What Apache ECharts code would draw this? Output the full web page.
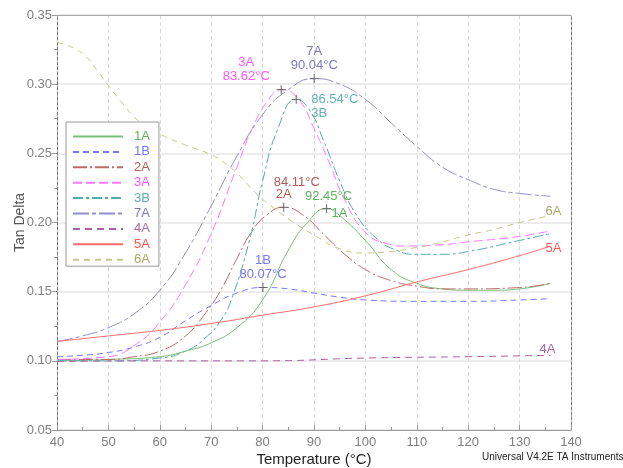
<!DOCTYPE html>
<html>
<head>
<meta charset="utf-8">
<script src="https://cdn.jsdelivr.net/npm/echarts@6/dist/echarts.min.js"></script>
<style>html,body{margin:0;padding:0;background:#fff;}#c{width:623px;height:468px;}</style>
</head>
<body>
<div id="c"></div>
<script>
// ---- data ----
const names = ['1A','1B','2A','3A','3B','7A','4A','5A','6A'];
const xTicks = [40,50,60,70,80,90,100,110,120,130,140];
const yTicks = [0.05,0.10,0.15,0.20,0.25,0.30,0.35];

const t1A = [40,50,60,65,70,75,80,85,88.5,92.45,95,100,105,110,115,120,125,130,136];
const v1A = [0.100,0.101,0.103,0.107,0.113,0.124,0.144,0.180,0.199,0.210,0.205,0.187,0.166,0.156,0.152,0.151,0.151,0.152,0.156];
const t1B = [40,45,50,55,60,65,70,75,80.07,85,90,95,100,110,120,130,136];
const v1B = [0.103,0.104,0.106,0.110,0.117,0.129,0.140,0.149,0.153,0.152,0.149,0.146,0.144,0.143,0.143,0.144,0.145];
const t2A = [40,50,55,60,65,69,72,75,78,81,84.11,88,92,96,100,105,110,115,120,130,136];
const v2A = [0.101,0.101,0.103,0.107,0.118,0.135,0.152,0.174,0.194,0.206,0.211,0.205,0.191,0.177,0.166,0.158,0.154,0.152,0.152,0.153,0.156];
const t3A = [40,50,55,60,65,70,75,78,81,83.62,87,90,93,96,100,104,108,115,120,130,136];
const v3A = [0.101,0.103,0.111,0.128,0.155,0.192,0.240,0.268,0.288,0.296,0.289,0.268,0.243,0.216,0.193,0.185,0.183,0.184,0.186,0.190,0.194];
const t3B = [40,50,60,65,69,72,74,77.5,80,83,86.54,89,92,95,98,102,106,110,115,120,130,136];
const v3B = [0.100,0.100,0.102,0.107,0.117,0.130,0.145,0.188,0.230,0.268,0.289,0.282,0.258,0.230,0.207,0.189,0.180,0.177,0.177,0.179,0.187,0.192];
const t7A = [40,45,50,55,60,65,70,75,80,85,90.04,95,100,105,110,115,120,125,130,136];
const v7A = [0.114,0.118,0.124,0.134,0.151,0.178,0.212,0.248,0.278,0.296,0.304,0.300,0.289,0.272,0.255,0.240,0.231,0.224,0.221,0.219];
const t4A = [40,60,80,100,120,136];
const v4A = [0.0995,0.100,0.100,0.102,0.103,0.104];
const t5A = [40,50,60,70,80,90,100,110,120,130,136];
const v5A = [0.114,0.118,0.122,0.127,0.133,0.139,0.147,0.157,0.166,0.176,0.183];
const t6A = [40,42,45,48,50,53,56,60,65,70,73,76,79,82,86,90,95,100,105,110,115,120,125,130,136];
const v6A = [0.330,0.328,0.322,0.309,0.299,0.285,0.273,0.264,0.256,0.249,0.242,0.232,0.220,0.211,0.200,0.191,0.181,0.178,0.179,0.182,0.186,0.191,0.195,0.200,0.205];

// peaks: [temperature, value]
const peak1A = [92.45, 0.210];
const peak1B = [80.07, 0.153];
const peak2A = [84.11, 0.211];
const peak3A = [83.62, 0.296];
const peak3B = [86.54, 0.289];
const peak7A = [90.04, 0.304];

// ---- styling ----
const FONT = 'Liberation Sans, Arial, sans-serif';
const lineColor = {'1A':'#77c077','1B':'#7777ff','2A':'#c06a6a','3A':'#ff77ff','3B':'#55aaaa','7A':'#8f8fcc','4A':'#a860a8','5A':'#ff6a6a','6A':'#c8c888'};
const textColor = {'1A':'#5fb35f','1B':'#7777ff','2A':'#b05a5a','3A':'#ff55ff','3B':'#5fb0b0','7A':'#7a7abb','4A':'#aa66aa','5A':'#ff5555','6A':'#aaaa66'};
const dash = {'1A':'solid','1B':[6,4],'2A':[14,3,2,3],'3A':[9,4],'3B':[10,3,3,3],'7A':[16,3,4,3],'4A':[7,5],'5A':'solid','6A':[6,5]};

const raw = {'1A':[t1A,v1A],'1B':[t1B,v1B],'2A':[t2A,v2A],'3A':[t3A,v3A],'3B':[t3B,v3B],'7A':[t7A,v7A],'4A':[t4A,v4A],'5A':[t5A,v5A],'6A':[t6A,v6A]};
const peaks = {'1A':peak1A,'1B':peak1B,'2A':peak2A,'3A':peak3A,'3B':peak3B,'7A':peak7A};

const CROSS = 'path://M5,0L5,10M0,5L10,5';
function crossItem(coord, label){
  return {coord: coord, symbol: CROSS, symbolSize: 9,
    itemStyle:{color:'rgba(0,0,0,0)', borderColor:'#666', borderWidth:1},
    label: label};
}
function textOnly(coord, label){
  return {coord: coord, symbol: CROSS, symbolSize: 9,
    itemStyle:{color:'rgba(0,0,0,0)', borderColor:'rgba(0,0,0,0)', borderWidth:0},
    label: label};
}
function lab(name, text, pos, opts){
  return Object.assign({show:true, formatter:text, position:pos, color:textColor[name],
    fontSize:13, fontFamily:FONT, lineHeight:14, distance:1}, opts||{});
}

const peakMarks = {
  '7A': p => [crossItem(p, lab('7A','7A\n90.04°C','top'))],
  '3A': p => [crossItem(p, lab('3A','3A\n83.62°C','top',{offset:[-35,0]}))],
  '3B': p => [crossItem(p, lab('3B','86.54°C\n3B','right',{distance:10, offset:[0,7], align:'left'}))],
  '2A': p => [crossItem(p, lab('2A','2A','top')), textOnly(p, lab('2A','84.11°C','top',{offset:[13,-12]}))],
  '1A': p => [crossItem(p, lab('1A','1A','right',{distance:0, offset:[0,5]})), textOnly(p, lab('1A','92.45°C','top',{offset:[2,0]}))],
  '1B': p => [crossItem(p, lab('1B','1B\n80.07°C','top'))]
};
const endOffsets = {'6A':[3,-4], '5A':[3,2], '4A':[-3,-6]};

const series = names.map(n => {
  const [ts, vs] = raw[n];
  const data = ts.map((t,i) => [t, vs[i]]);
  const mp = [];
  if (peaks[n]) mp.push(...peakMarks[n](peaks[n]));
  if (endOffsets[n]) {
    const last = data[data.length-1];
    mp.push(textOnly(last, lab(n, n, 'inside', {offset:endOffsets[n]})));
  }
  return {
    name: n, type: 'line', data: data, smooth: 0.5, symbol: 'none',
    lineStyle: {color: lineColor[n], width: 1, type: dash[n]},
    itemStyle: {color: lineColor[n]},
    emphasis: {disabled: true},
    markPoint: mp.length ? {data: mp, animation:false, silent:true} : undefined,
    z: 3
  };
});

const chart = echarts.init(document.getElementById('c'), null, {renderer:'canvas'});
chart.setOption({
  animation: false,
  backgroundColor: '#fff',
  textStyle: {fontFamily: FONT},
  grid: {left: 57, right: 52, top: 15, bottom: 38, containLabel: false, outerBoundsMode: 'none'},
  legend: {
    orient: 'vertical', left: 66, top: 122,
    data: names.map(n => ({name: n, textStyle: {color: textColor[n]}})),
    itemWidth: 50, itemHeight: 10, itemGap: 2.4,
    padding: [8, 9, 0, 6],
    borderColor: '#999', borderWidth: 1, backgroundColor: '#fff',
    itemStyle: {color: 'rgba(0,0,0,0)', borderColor: 'rgba(0,0,0,0)', borderWidth: 0, opacity: 0},
    textStyle: {fontSize: 13, fontFamily: FONT, padding: [0,0,0,6]},
    selectedMode: false
  },
  xAxis: [{
    type: 'value', min: xTicks[0], max: xTicks[xTicks.length-1], interval: 10,
    axisLine: {show: true, lineStyle: {color: '#999'}},
    axisTick: {show: true, inside: true, length: 5, lineStyle: {color: '#999'}},
    minorTick: {show: true, splitNumber: 2, length: 3, lineStyle: {color: '#999'}},
    axisLabel: {color: '#808080', fontSize: 13, fontFamily: FONT, margin: 6},
    splitLine: {show: true, lineStyle: {color: '#d8d8d8', type: [4,3]}},
    name: 'Temperature (°C)', nameLocation: 'middle', nameGap: 22, nameMoveOverlap: false,
    nameTextStyle: {color: '#222', fontSize: 15, fontFamily: FONT}
  }, {
    type: 'value', position: 'top', min: 40, max: 140, interval: 10,
    axisLine: {show: true, lineStyle: {color: '#aaa'}},
    axisTick: {show: false}, axisLabel: {show: false}, splitLine: {show: false}
  }],
  yAxis: [{
    type: 'value', min: yTicks[0], max: yTicks[yTicks.length-1], interval: 0.05,
    axisLine: {show: true, lineStyle: {color: '#777', type: [3,2]}},
    axisTick: {show: true, length: 5, lineStyle: {color: '#999'}},
    minorTick: {show: true, splitNumber: 2, length: 3, lineStyle: {color: '#999'}},
    axisLabel: {color: '#808080', fontSize: 13, fontFamily: FONT, margin: 5, formatter: v => v.toFixed(2)},
    splitLine: {show: true, lineStyle: {color: '#e6e6e6', width: 1.5}},
    name: 'Tan Delta', nameLocation: 'middle', nameGap: 30, nameRotate: 90, nameMoveOverlap: false,
    nameTextStyle: {color: '#555', fontSize: 14, fontFamily: FONT}
  }, {
    type: 'value', position: 'right', min: 0.05, max: 0.35, interval: 0.05,
    axisLine: {show: true, lineStyle: {color: '#777', type: [3,2]}},
    axisTick: {show: false}, axisLabel: {show: false}, splitLine: {show: false}
  }],
  graphic: [{
    type: 'text', left: 482, top: 452,
    style: {text: 'Universal V4.2E TA Instruments', fill: '#222', font: '10px ' + FONT}
  }],
  series: series
});
</script>
</body>
</html>
